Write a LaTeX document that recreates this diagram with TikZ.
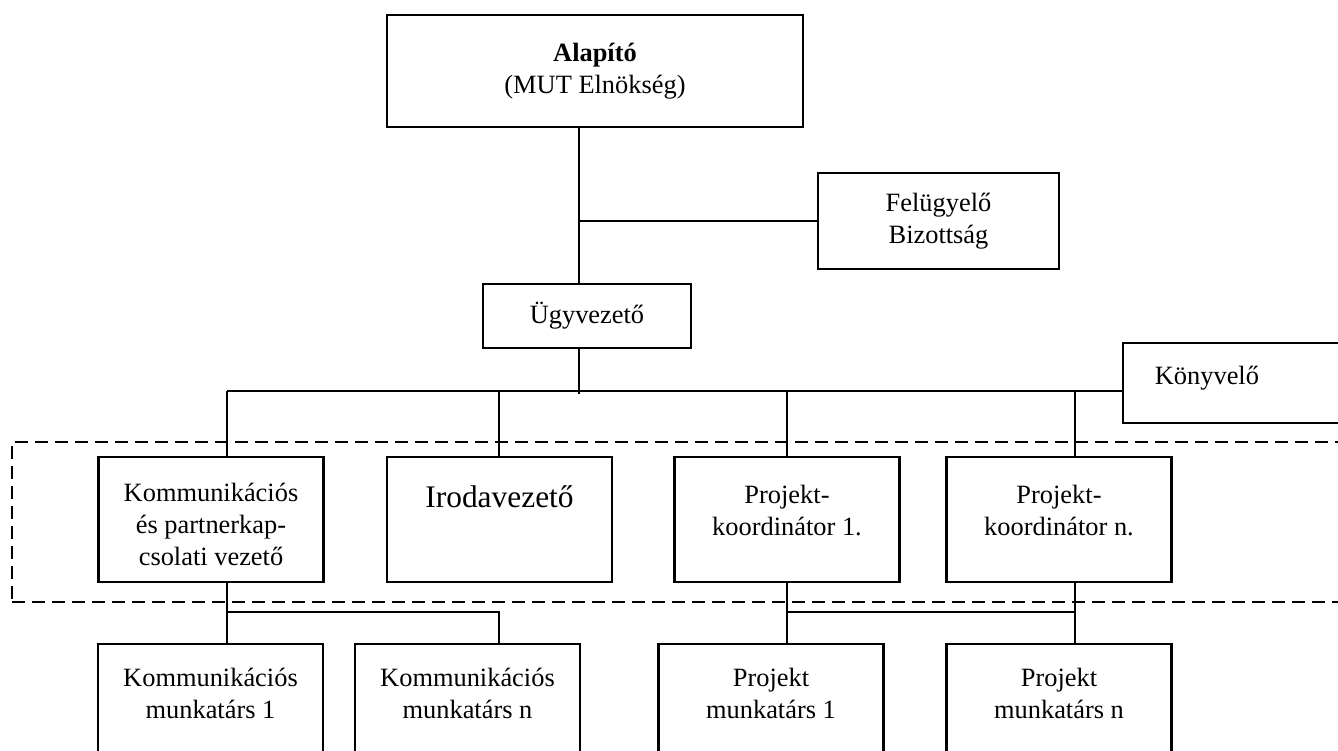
\documentclass[tikz,border=0pt]{standalone}
\usepackage{fontspec}
\setmainfont{Liberation Serif}
\usetikzlibrary{positioning}

\begin{document}
\begin{tikzpicture}[x=0.5pt, y=-0.5pt, line width=1pt, font=\fontsize{13.2}{16}\selectfont]
        \tikzstyle{box}=[draw, rectangle, line width=1.1pt, inner sep=0pt, align=center]
        \tikzstyle{leader}=[box, minimum width=112.5pt, minimum height=62.5pt]
        \tikzstyle{staff}=[box, minimum width=112.5pt, minimum height=63pt]
        \tikzstyle{txt}=[inner sep=0pt, align=center]
        \tikzstyle{team}=[draw, line width=1.4pt, dash pattern=on 6.5pt off 3.5pt, inner sep=0pt]

        \useasboundingbox (0,0) rectangle (1338,750);

        % Draw the dashed frame round the leaders
        \node[team, minimum width=674pt, minimum height=80pt] (team) at (686,522) {};

        % Draw the top of the organisation
        \node[box, minimum width=208pt, minimum height=56pt] (A) at (595,71) {\textbf{Alapító}\\(MUT Elnökség)};
        \node[box, minimum width=120.5pt, minimum height=48pt] (FB) at (938.5,221) {Felügyelő\\Bizottság};
        \node[box, minimum width=104pt, minimum height=32pt] (UV) at (587,316) {Ügyvezető};
        \node[box, minimum width=150pt, minimum height=40pt] (K) at (1273,383) {};
        \node[txt, right=16pt of K.west, yshift=2.5pt] (KT) {Könyvelő};

        % Draw the leaders
        \foreach \name / \x in {1/211, 2/499.5, 3/787, 4/1059}
            \node[leader] (L-\name) at (\x,519.5) {};
        \node[txt, yshift=-2.5pt] (LT-1) at (L-1) {Kommunikációs\\és partnerkap-\\csolati vezető};
        \node[txt, font=\fontsize{15.7}{19}\selectfont, below=14.5pt of L-2.north] (LT-2) {Irodavezető};
        \node[txt, below=14pt of L-3.north] (LT-3) {Projekt-\\koordinátor 1.};
        \node[txt, below=14pt of L-4.north] (LT-4) {Projekt-\\koordinátor n.};

        % Draw the staff
        \foreach \name / \x / \first / \last in {1/210.5/Kommunikációs/1, 2/467.5/Kommunikációs/n, 3/771/Projekt/1, 4/1059/Projekt/n}
        {
            \node[staff] (M-\name) at (\x,707) {};
            \node[txt, below=12pt of M-\name.north] (MT-\name) {\first\\munkatárs \last};
        }

        % Connect the founder with the director and the board
        \coordinate (J-1) at (579,221);
        \coordinate (J-2) at (579,394);
        \draw (A.south -| J-1) -- (UV.north -| J-1);
        \draw (J-1) -- (FB.west);
        \draw (UV.south -| J-2) -- (J-2);

        % Connect the director with every leader and the accountant
        \coordinate (B-0) at (227,391);
        \draw (B-0) -- (B-0 -| K.west);
        \foreach \name / \x in {1/227, 2/499, 3/787, 4/1075}
        {
            \coordinate (D-\name) at (\x,391);
            \draw (D-\name) -- (D-\name |- L-\name.north);
        }

        % Connect the leaders with their staff
        \coordinate (S-1) at (227,612);
        \coordinate (S-2) at (499,612);
        \coordinate (S-3) at (787,612);
        \coordinate (S-4) at (1075,612);
        \draw (L-1.south -| S-1) -- (M-1.north -| S-1);
        \draw (S-1) -- (S-2) -- (M-2.north -| S-2);
        \draw (L-3.south -| S-3) -- (M-3.north -| S-3);
        \draw (L-4.south -| S-4) -- (M-4.north -| S-4);
        \draw (S-3) -- (S-4);
\end{tikzpicture}
\end{document}
